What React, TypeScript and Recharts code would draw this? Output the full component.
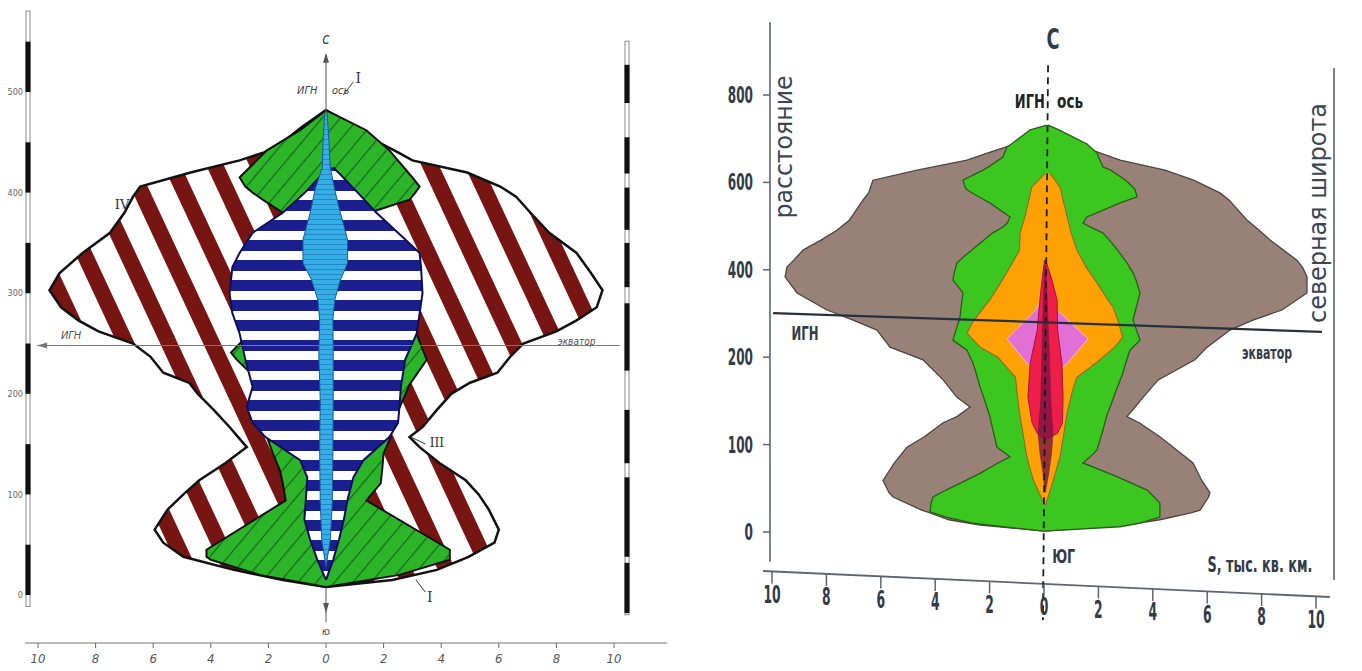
import React from 'react';
import { ComposedChart, Area, XAxis, YAxis, ReferenceLine, ReferenceDot } from 'recharts';

const NARROW = "'Liberation Sans Narrow','DejaVu Sans Condensed','Liberation Sans',Arial,sans-serif";
const HAND = "'DejaVu Sans Condensed','Liberation Sans Narrow',sans-serif";
const SERIF = "'DejaVu Serif','Liberation Serif',serif";

// ---------------- LEFT PANEL (hatched schematic) ----------------
const lXTicks = [-10, -8, -6, -4, -2, 0, 2, 4, 6, 8, 10];
const lDistTicks = [0, 100, 200, 300, 400, 500];
const lLatLabels = ['39°', '40°', '41°', '42°', '43°', '44°'];
const lLatPos = [-10, 97, 208, 316, 437, 540];
const lLatBars = [[-18, 32], [38, 117], [131, 184], [223, 290], [306, 350], [363, 405], [419, 455], [489, 527]];

// IV – outer zone
const outerY = [482, 465, 449, 440, 432, 420, 406, 396, 380, 360, 340, 320, 303, 286, 273, 262, 250, 237, 221, 211, 200, 184, 167, 157, 147, 131, 114, 100, 85, 65, 52, 38, 25, 15, 8];
const outerL = [0, -0.85, -1.55, -2.15, -3.0, -4.7, -6.45, -6.7, -7.0, -7.5, -8.45, -9.25, -9.6, -9.2, -8.6, -7.9, -6.7, -6.1, -5.65, -4.75, -4.45, -3.9, -3.35, -3.05, -2.75, -3.5, -4.4, -4.95, -5.5, -5.95, -5.65, -4.95, -3.2, -1.5, 0];
const outerR = [0, 0.95, 1.9, 2.5, 3.0, 4.9, 6.05, 6.6, 7.1, 7.75, 8.7, 9.2, 9.6, 9.4, 8.7, 8.0, 6.85, 6.4, 5.95, 5.0, 4.35, 3.85, 3.35, 2.9, 3.25, 3.95, 4.85, 5.3, 5.65, 6.0, 5.85, 4.95, 3.85, 2.3, 0];
// I – green zone
const greenY = [482, 462, 442, 415, 406, 400, 393, 380, 330, 263, 241, 234, 209, 170, 157, 141, 124, 111, 94, 45, 38, 35, 20, 8];
const greenL = [0, -0.9, -2.05, -3.0, -2.8, -2.55, -2.2, -1.5, -1.8, -2.55, -3.3, -3.1, -2.2, -2.0, -2.05, -1.85, -1.6, -1.5, -1.4, -4.15, -4.15, -4.0, -2.3, 0];
const greenR = [0, 1.4, 2.2, 3.0, 3.25, 3.1, 2.9, 1.5, 2.0, 3.1, 3.4, 3.5, 2.9, 2.3, 2.25, 2.0, 1.95, 1.9, 1.4, 4.3, 4.3, 4.3, 2.55, 0];
// II – blue striped zone
const blueY = [425, 418, 400, 380, 360, 340, 326, 300, 280, 260, 234, 207, 187, 171, 157, 134, 117, 95, 75, 55, 35, 15];
const blueL = [-0.1, -0.14, -0.73, -1.5, -2.55, -3.0, -3.25, -3.35, -3.25, -3.0, -2.8, -2.55, -2.75, -2.55, -2.1, -0.9, -0.65, -0.7, -0.75, -0.55, -0.3, 0];
const blueR = [0.25, 0.5, 1.1, 1.75, 2.5, 3.25, 3.3, 3.35, 3.25, 3.15, 2.75, 2.6, 2.55, 2.5, 2.2, 1.3, 0.95, 0.75, 0.62, 0.45, 0.25, 0];
// core – light blue
const cyanY = [479, 452, 425, 403, 380, 353, 330, 313, 293, 273, 239, 194, 144, 94, 55, 28];
const cyanL = [-0.04, -0.1, -0.13, -0.38, -0.55, -0.8, -0.8, -0.5, -0.28, -0.22, -0.25, -0.2, -0.22, -0.2, -0.15, 0];
const cyanR = [0.04, 0.1, 0.15, 0.3, 0.5, 0.75, 0.75, 0.5, 0.3, 0.24, 0.25, 0.25, 0.24, 0.22, 0.15, 0];

// ---------------- RIGHT PANEL (coloured) ----------------
const rXTicks = [-10, -8, -6, -4, -2, 0, 2, 4, 6, 8, 10];
const rDistTicks = [0, 100, 200, 400, 600, 800];
const rLatLabels = ['39', '40', '41', '42', '43'];
const rLatPos = [-20, 68, 182, 384, 610];

const brownY = [700, 679, 670, 651, 628, 605, 576, 560, 514, 491, 468, 445, 422, 406, 384, 347, 308, 285, 262, 223, 197, 174, 154, 143, 132, 125, 109, 97, 79, 59, 45, 40, 25, 22, 14, 8, 1];
const brownL = [-0.5, -1.5, -1.95, -2.83, -4.67, -6.29, -6.45, -6.65, -7.15, -7.6, -8.2, -8.86, -9.2, -9.45, -9.52, -9.08, -7.98, -7.02, -6.14, -5.66, -4.45, -3.71, -3.2, -2.72, -3.2, -3.71, -4.4, -5.04, -5.5, -5.92, -5.7, -5.55, -4.5, -4.19, -3.5, -2.35, 0];
const brownR = [0.5, 1.5, 1.95, 2.8, 4.45, 5.5, 6.47, 6.8, 7.46, 7.9, 8.31, 8.8, 9.3, 9.5, 9.67, 9.67, 8.75, 7.68, 6.84, 6.0, 5.55, 4.2, 3.64, 3.35, 3.05, 3.5, 4.26, 4.75, 5.48, 5.8, 6.1, 6.05, 5.74, 5.4, 4.26, 3.0, 0];

const gY = [731, 720, 688, 681, 667, 658, 635, 628, 605, 589, 583, 567, 553, 521, 507, 498, 484, 461, 438, 416, 393, 377, 347, 292, 285, 239, 216, 193, 182, 166, 143, 132, 117, 97, 94, 86, 79, 68, 63, 48, 40, 33, 23, 17, 10, 6, 1];
const gL = [0.1, -0.51, -1.2, -1.36, -1.45, -1.51, -2.05, -2.24, -2.98, -2.9, -2.83, -2.4, -1.99, -1.25, -1.35, -1.51, -1.9, -2.35, -2.8, -3.2, -3.3, -3.35, -2.98, -3.09, -3.12, -3.35, -2.83, -2.61, -2.5, -2.35, -2.1, -1.99, -1.88, -1.73, -1.6, -1.25, -1.7, -2.3, -2.61, -3.6, -4.08, -4.15, -4.19, -3.6, -2.61, -1.5, 0];
const gR = [0.15, 0.55, 1.58, 1.7, 1.95, 2.0, 2.17, 2.45, 3.0, 3.27, 3.35, 3.42, 2.8, 1.58, 1.43, 1.7, 2.17, 2.5, 2.79, 3.05, 3.27, 3.38, 3.53, 3.3, 3.27, 3.53, 3.16, 3.0, 2.9, 2.7, 2.43, 2.3, 2.17, 1.98, 1.95, 1.7, 1.43, 2.32, 2.7, 3.79, 4.05, 4.26, 4.26, 4.26, 3.5, 2.79, 0];

const orY = [622, 589, 521, 484, 445, 406, 370, 331, 315, 278, 269, 255, 246, 223, 200, 193, 177, 162, 136, 86, 60, 31];
const orL = [0.05, -0.45, -0.7, -0.88, -0.9, -1.25, -1.6, -1.99, -2.2, -2.65, -2.72, -2.83, -2.7, -2.35, -1.7, -1.5, -1.05, -1.0, -0.9, -0.63, -0.4, 0.02];
const orR = [0.2, 0.59, 0.85, 1.0, 1.21, 1.55, 1.95, 2.35, 2.54, 2.75, 2.79, 2.85, 2.9, 2.6, 2.17, 1.9, 1.21, 1.05, 0.85, 0.59, 0.35, 0.06];

const pinkY = [340, 308, 242, 193, 172];
const pinkL = [-0.05, -0.3, -1.36, -0.62, 0];
const pinkR = [0.1, 0.48, 1.62, 0.85, 0.08];

const redY = [422, 377, 331, 262, 193, 154, 125, 113, 106];
const redL = [0.02, -0.07, -0.15, -0.25, -0.51, -0.59, -0.44, -0.25, 0.02];
const redR = [0.06, 0.29, 0.48, 0.5, 0.66, 0.7, 0.68, 0.5, 0.1];

const coreY = [410, 300, 200, 150, 113, 90, 68, 45];
const coreL = [0.02, -0.04, -0.08, -0.12, -0.22, -0.15, -0.04, 0.04];
const coreR = [0.06, 0.14, 0.2, 0.25, 0.33, 0.28, 0.18, 0.05];

// distance axis of the right panel is drawn with 0-100-200 then 200-400-600-800 at equal spacing
const toLevel = (km: number) => (km <= 200 ? km / 100 : 2 + (km - 200) / 200);
const fromLevel = (l: number) => Math.round(l <= 2 ? l * 100 : 200 + (l - 2) * 200);

const rows = (ys: number[], ls: number[], rs: number[], f: (v: number) => number = (v) => v) =>
  ys.map((y, i) => ({ y: f(y), v: [ls[i], rs[i]] }));

function txt(key: string, x: number, y: number, s: string, o: any = {}) {
  return (
    <ReferenceDot
      key={key}
      x={x}
      y={y}
      r={0}
      ifOverflow="visible"
      shape={(p: any) => (
        <text
          x={p.cx}
          y={p.cy}
          fontSize={o.size ?? 14}
          fontWeight={o.weight ?? 'normal'}
          fontStyle={o.italic ? 'italic' : 'normal'}
          fontFamily={o.family ?? NARROW}
          fill={o.fill ?? '#333'}
          textAnchor={o.anchor ?? 'middle'}
          dominantBaseline="central"
          transform={o.rot ? `rotate(${o.rot} ${p.cx} ${p.cy})` : undefined}
          textLength={o.len}
          lengthAdjust={o.len ? 'spacingAndGlyphs' : undefined}
        >
          {s}
        </text>
      )}
    />
  );
}

function arrow(key: string, x: number, y: number, dir: 'up' | 'down' | 'left', color = '#555') {
  return (
    <ReferenceDot
      key={key}
      x={x}
      y={y}
      r={0}
      ifOverflow="visible"
      shape={(p: any) => {
        const c = `${p.cx},${p.cy}`;
        const d = dir === 'up' ? `M${c} l-3,10 l6,0 z` : dir === 'down' ? `M${c} l-3,-10 l6,0 z` : `M${c} l10,-3 l0,6 z`;
        return <path d={d} fill={color} />;
      }}
    />
  );
}

function seg(key: string, x1: number, y1: number, x2: number, y2: number, stroke: string, w: number, dash?: string) {
  return (
    <ReferenceLine
      key={key}
      segment={[{ x: x1, y: y1 }, { x: x2, y: y2 }]}
      stroke={stroke}
      strokeWidth={w}
      strokeDasharray={dash}
      ifOverflow="visible"
    />
  );
}

// ---------------- LEFT CHART ----------------
const LX = [-10.347, 10.451];
const LY = [-47.7, 581.5];

function LeftChart() {
  return (
    <ComposedChart width={680} height={671} layout="vertical" margin={{ top: 10, right: 8, bottom: 0, left: 0 }}>
      <defs>
        <pattern id="lpMaroon" patternUnits="userSpaceOnUse" width={39} height={39} patternTransform="rotate(-25)">
          <rect width={39} height={39} fill="#ffffff" />
          <rect width={16} height={39} fill="#761512" />
        </pattern>
        <pattern id="lpBlue" patternUnits="userSpaceOnUse" width={20} height={20}>
          <rect width={20} height={20} fill="#ffffff" />
          <rect width={20} height={11} fill="#1b1f8e" />
        </pattern>
        <pattern id="lpGreen" patternUnits="userSpaceOnUse" width={14} height={14} patternTransform="rotate(40)">
          <rect width={14} height={14} fill="#2db52a" />
          <rect width={1.2} height={14} fill="#17651a" />
        </pattern>
        <pattern id="lpCyan" patternUnits="userSpaceOnUse" width={6} height={5}>
          <rect width={6} height={5} fill="#35aee6" />
          <rect y={4} width={6} height={0.8} fill="#1d7cbf" />
        </pattern>
      </defs>
      <XAxis
        type="number"
        domain={LX}
        allowDataOverflow
        ticks={lXTicks}
        tickFormatter={(v: number) => String(Math.abs(v))}
        axisLine={false}
        tickLine={{ stroke: '#666' }}
        tickSize={5}
        tickMargin={6}
        height={28}
        tick={{ fill: '#555', fontSize: 13, fontStyle: 'italic', fontFamily: HAND }}
      />
      <YAxis
        type="number"
        dataKey="y"
        reversed
        domain={LY}
        allowDataOverflow
        ticks={lDistTicks}
        width={28}
        axisLine={false}
        tickLine={false}
        tickSize={0}
        tickMargin={5}
        tick={{ fill: '#666', fontSize: 9, fontFamily: HAND }}
      />
      <YAxis
        yAxisId="lat"
        orientation="right"
        type="number"
        reversed
        domain={LY}
        allowDataOverflow
        ticks={lLatPos}
        tickFormatter={(v: number) => lLatLabels[lLatPos.indexOf(v)] ?? ''}
        width={45}
        axisLine={false}
        tickLine={false}
        tickSize={0}
        tickMargin={16}
        tick={{ fill: '#555', fontSize: 10, fontFamily: HAND }}
      />

      <Area data={rows(outerY, outerL, outerR)} dataKey="v" type="linear" fill="url(#lpMaroon)" fillOpacity={1} stroke="#111" strokeWidth={2.5} isAnimationActive={false} dot={false} activeDot={false} />
      <Area data={rows(greenY, greenL, greenR)} dataKey="v" type="linear" fill="url(#lpGreen)" fillOpacity={1} stroke="#111" strokeWidth={2} isAnimationActive={false} dot={false} activeDot={false} />
      <Area data={rows(blueY, blueL, blueR)} dataKey="v" type="linear" fill="url(#lpBlue)" fillOpacity={1} stroke="#0d0d5a" strokeWidth={2} isAnimationActive={false} dot={false} activeDot={false} />
      <Area data={rows(cyanY, cyanL, cyanR)} dataKey="v" type="linear" fill="url(#lpCyan)" fillOpacity={1} stroke="#1a5a9a" strokeWidth={1} isAnimationActive={false} dot={false} activeDot={false} />

      {/* scale strips */}
      {seg('ls-o', LX[0], -12, LX[0], 581, '#8a8a8a', 5)}
      {seg('ls-i', LX[0], -11, LX[0], 580, '#ffffff', 3)}
      {lDistTicks.map((d) => seg(`lsb${d}`, LX[0], d, LX[0], d + 50, '#111', 5))}
      {seg('rs-o', LX[1], -20, LX[1], 551, '#8a8a8a', 5)}
      {seg('rs-i', LX[1], -19, LX[1], 550, '#ffffff', 3)}
      {lLatBars.map((b, i) => seg(`rsb${i}`, LX[1], b[0], LX[1], b[1], '#111', 5))}
      {/* x axis line */}
      {seg('lxa', -10.45, LY[0], 11.85, LY[0], '#777', 1.2)}
      {/* equator line */}
      {seg('eq', -10.03, 248, 10.2, 248, '#777', 1.2)}
      {arrow('eqa', -10.03, 248, 'left', '#777')}
      {/* axis arrows */}
      {seg('ax-top', 0, 480, 0, 537, '#555', 1)}
      {arrow('ax-top-a', 0, 539, 'up')}
      {seg('ax-bot', 0, 8, 0, -27, '#555', 1)}
      {arrow('ax-bot-a', 0, -18, 'down')}
      {/* pointers */}
      {seg('p1', 0.6, 497, 0.95, 510, '#333', 1)}
      {seg('p3', 2.95, 157, 3.45, 150, '#333', 1)}
      {seg('p4', 3.12, 15, 3.45, 3, '#333', 1)}

      {txt('l-c', 0, 553, 'с', { size: 15, italic: true, fill: '#444', family: HAND })}
      {txt('l-ign', -0.3, 501, 'ИГН', { size: 11, italic: true, anchor: 'end', fill: '#444', family: HAND })}
      {txt('l-os', 0.21, 501, 'ось', { size: 11, italic: true, anchor: 'start', fill: '#444', family: HAND })}
      {txt('l-I1', 1.12, 514, 'I', { size: 14, family: SERIF, fill: '#333' })}
      {txt('l-IV', -7.08, 388, 'IV', { size: 13, family: SERIF, fill: '#333' })}
      {txt('l-III', 3.85, 151, 'III', { size: 12, family: SERIF, fill: '#333' })}
      {txt('l-I2', 3.6, -2, 'I', { size: 14, family: SERIF, fill: '#333' })}
      {txt('l-ign2', -8.85, 258, 'ИГН', { size: 11, italic: true, fill: '#555', family: HAND })}
      {txt('l-eq', 8.7, 252, 'экватор', { size: 10, italic: true, fill: '#555', family: HAND })}
      {txt('l-ju', 0, -36, 'ю', { size: 11, fill: '#555', family: HAND })}
    </ComposedChart>
  );
}

// ---------------- RIGHT CHART ----------------
const RX = [-10.074, 10.662];
const RL = [-0.595, 5.835];
const AXC = '#5b6672';
const TXC = '#323b47';

const RDistTick = (p: any) => {
  const lab = String(fromLevel(p.payload.value));
  return (
    <text x={p.x} y={p.y} textAnchor="end" dominantBaseline="central" fontSize={23} fontWeight="bold" fontFamily={NARROW} fill={TXC} textLength={lab.length * 8.4} lengthAdjust="spacingAndGlyphs">
      {lab}
    </text>
  );
};

const RLatTick = (p: any) => {
  const i = rLatPos.findIndex((k) => Math.abs(toLevel(k) - p.payload.value) < 1e-6);
  const lab = i >= 0 ? rLatLabels[i] : '';
  return (
    <text x={p.x} y={p.y} textAnchor="start" dominantBaseline="central" fontSize={23} fontWeight="bold" fontFamily={NARROW} fill={TXC}>
      <tspan textLength={17} lengthAdjust="spacingAndGlyphs">{lab}</tspan>
      <tspan dy={-10} fontSize={13}>°</tspan>
    </text>
  );
};

const RXTick = (p: any) => {
  const v = p.payload.value;
  const base = p.y + v * 1.25;
  const lab = String(Math.abs(v));
  return (
    <g>
      <line x1={p.x} y1={base} x2={p.x} y2={base + 12} stroke={AXC} strokeWidth={1.5} />
      <text x={p.x} y={base + 31} textAnchor="middle" fontSize={24} fontWeight="bold" fontFamily={NARROW} fill={TXC} textLength={lab.length * 8.6} lengthAdjust="spacingAndGlyphs">
        {lab}
      </text>
    </g>
  );
};

const L = toLevel;

function RightChart() {
  const area = (key: string, ys: number[], ls: number[], rs: number[], fill: string, stroke: string, sw: number, op = 1) => (
    <Area key={key} data={rows(ys, ls, rs, L)} dataKey="v" type="linear" fill={fill} fillOpacity={op} stroke={stroke} strokeWidth={sw} isAnimationActive={false} dot={false} activeDot={false} />
  );
  return (
    <ComposedChart width={672} height={671} layout="vertical" margin={{ top: 22, right: 0, bottom: 47, left: 20 }}>
      <XAxis type="number" domain={RX} allowDataOverflow ticks={rXTicks} axisLine={false} tickLine={false} tickSize={0} tickMargin={0} height={40} tick={RXTick} interval={0} />
      <YAxis type="number" dataKey="y" reversed domain={RL} allowDataOverflow ticks={rDistTicks.map(L)} width={60} axisLine={false} tickLine={{ stroke: AXC, strokeWidth: 1.5 }} tickSize={7} tickMargin={10} tick={RDistTick} interval={0} />
      <YAxis yAxisId="lat" orientation="right" type="number" reversed domain={RL} allowDataOverflow ticks={rLatPos.map(L)} width={28} axisLine={false} tickLine={{ stroke: AXC, strokeWidth: 1.5 }} tickSize={4} tickMargin={2} tick={RLatTick} interval={0} />

      {area('brown', brownY, brownL, brownR, '#988177', '#4f4440', 1.3)}
      {area('green', gY, gL, gR, '#3cc620', '#2b5e1a', 1.3)}
      {area('orange', orY, orL, orR, '#ffa005', '#8c6a25', 1.1)}
      {area('pink', pinkY, pinkL, pinkR, '#e26fd6', '#f3b3ea', 1)}
      {area('red', redY, redL, redR, '#ef1e48', '#a3123f', 1)}
      {area('core', coreY, coreL, coreR, '#7a1440', '#7a1440', 0.5, 0.8)}

      {/* axes lines */}
      {seg('ry1', RX[0], L(-34), RX[0], L(967), AXC, 1.6)}
      {seg('ry2', RX[1], L(-55), RX[1], L(862), AXC, 1.6)}
      {seg('rxa', -10.33, L(-44.6), 10.51, L(-74.4), AXC, 1.8)}
      {/* central dashed axis */}
      {seg('rc', 0.15, L(868), -0.04, L(-100.7), '#1d1d1d', 1.8, '7 5')}
      {/* ИГН – экватор line */}
      {seg('req', -9.96, L(301), 10.22, L(258), '#27303b', 2.2)}

      {txt('r-c', 0.33, L(926), 'С', { size: 28, weight: 'bold', fill: TXC, len: 13 })}
      {txt('r-ign', 0.03, L(786), 'ИГН', { size: 20, weight: 'bold', anchor: 'end', fill: '#222', len: 30 })}
      {txt('r-os', 0.48, L(786), 'ось', { size: 20, weight: 'bold', anchor: 'start', fill: '#222', len: 26 })}
      {txt('r-ign2', -8.79, L(255), 'ИГН', { size: 19, weight: 'bold', fill: TXC, len: 27 })}
      {txt('r-eq', 8.2, L(210), 'экватор', { size: 17, weight: 'bold', fill: TXC, len: 50 })}
      {txt('r-ju', 0.3, -0.275, 'ЮГ', { size: 20, weight: 'bold', anchor: 'start', fill: TXC, len: 23 })}
      {txt('r-s', 7.94, -0.378, 'S, тыс. кв. км.', { size: 21, weight: 'bold', fill: TXC, len: 105 })}
      {txt('r-dist', -9.56, L(681), 'расстояние', { size: 24, rot: -90, fill: '#3b4554', len: 143 })}
      {txt('r-lat', 10.07, L(530), 'северная широта', { size: 25, rot: -90, fill: '#3b4554', len: 220 })}
    </ComposedChart>
  );
}

export default function App() {
  return (
    <div style={{ position: 'absolute', left: 0, top: 0, width: 1362, height: 671, background: '#fff', overflow: 'hidden' }}>
      <div style={{ position: 'absolute', left: 0, top: 0 }}>
        <LeftChart />
      </div>
      <div style={{ position: 'absolute', left: 690, top: 0 }}>
        <RightChart />
      </div>
    </div>
  );
}
